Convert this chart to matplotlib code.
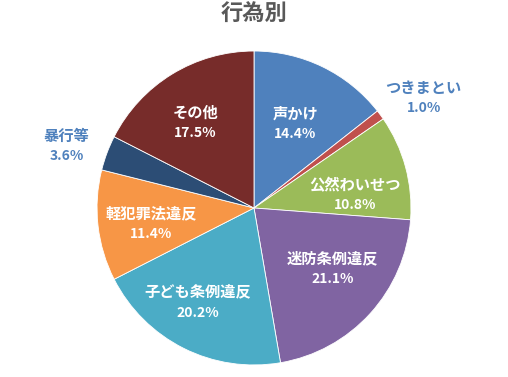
"""Pie chart of incidents by type (行為別)."""
import numpy as np
import matplotlib
matplotlib.use("Agg")
import matplotlib.pyplot as plt

plt.rcParams['font.family'] = ['Noto Sans CJK JP', 'DejaVu Sans']

labels = ["声かけ", "つきまとい", "公然わいせつ", "迷防条例違反",
          "子ども条例違反", "軽犯罪法違反", "暴行等", "その他"]
values = [14.4, 1.0, 10.8, 21.1, 20.2, 11.4, 3.6, 17.5]
colors = ["#4F81BD", "#C0504D", "#9BBB59", "#8064A2",
          "#4BACC6", "#F79646", "#2C4D75", "#772C2A"]
# label placement: distance from centre (fraction of radius), angle nudge (deg)
label_dist = [0.60, 1.29, 0.65, 0.63, 0.70, 0.66, 1.26, 0.66]
label_nudge = [0.0, 3.3, 7.8, -4.7, 4.2, -1.9, -2.0, -2.8]
outside = [False, True, False, False, False, False, True, False]


def main():
    fig = plt.figure(figsize=(5.08, 3.77), dpi=100)
    ax = fig.add_axes([0.191, 0.0318, 0.618, 0.833])

    ax.pie(values, colors=colors, startangle=90, counterclock=False,
           wedgeprops=dict(edgecolor='white', linewidth=0.6))
    ax.set_xlim(-1, 1)
    ax.set_ylim(-1, 1)
    ax.set_aspect('equal')

    total = sum(values)
    cum = 0.0
    for lab, v, d, nudge, out in zip(labels, values, label_dist, label_nudge, outside):
        mid = np.deg2rad((cum + v / 2) / total * 360 + nudge)
        cum += v
        x = d * np.sin(mid)
        y = d * np.cos(mid)
        color = "#4F81BD" if out else "white"
        ax.annotate(lab, (x, y), xytext=(0, 7), textcoords='offset points',
                    ha='center', va='center', color=color, fontsize=11,
                    fontweight='bold', annotation_clip=False)
        ax.annotate(f"{v:.1f}%", (x, y), xytext=(0, -7.5), textcoords='offset points',
                    ha='center', va='center', color=color, fontsize=10,
                    fontweight='bold', annotation_clip=False)

    fig.text(0.5, 0.962, "行為別", ha='center', va='center', fontsize=16,
             fontweight='bold', color='#595959')

    fig.savefig("out.png", dpi=100)


if __name__ == "__main__":
    main()
